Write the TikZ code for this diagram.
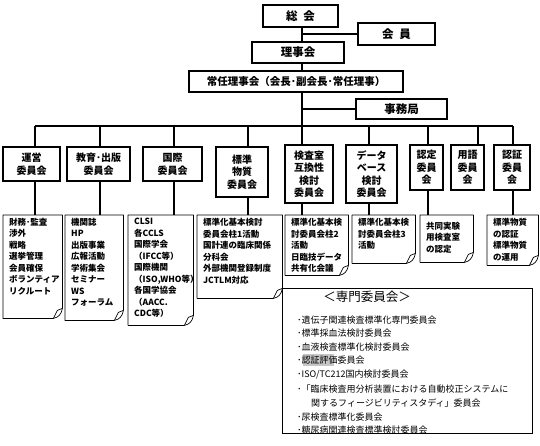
\documentclass[tikz,border=0pt]{standalone}
\usepackage{fontspec}
\newfontfamily\jp{Noto Sans CJK JP}
\newcommand\dogear[1]{%
  \draw[nline] (#1.north west) -- (#1.north east) -- ([yshift=10pt]#1.south east)
     .. controls ([xshift=-1pt,yshift=4pt]#1.south east) and ([xshift=-4pt,yshift=1pt]#1.south east) .. ([xshift=-9pt]#1.south east) -- (#1.south west) -- cycle;
  \draw[nline] ([xshift=-9pt]#1.south east) -- ([xshift=-5pt,yshift=8pt]#1.south east) -- ([yshift=10pt]#1.south east);}
\begin{document}
\begin{tikzpicture}[x=1pt,y=-1pt,
  topbox/.style={draw,line width=1.5pt,inner sep=0pt,font=\jp\bfseries\fontsize{11.5}{13}\selectfont},
  cbox/.style={draw,line width=1.5pt,inner sep=0pt,align=center,font=\jp\bfseries\fontsize{10}{12.5}\selectfont},
  conn/.style={line width=1.3pt},
  nframe/.style={inner sep=0pt,anchor=north west},
  ntext/.style={inner sep=0pt,anchor=north west,align=left,font=\jp\bfseries\fontsize{8.5}{11.5}\selectfont},
  nline/.style={line width=0.7pt,line join=round},
  ltext/.style={inner sep=0pt,anchor=west,font=\jp\fontsize{9}{11}\selectfont},
]
\fill[white] (0,0) rectangle (540,446);
\useasboundingbox (0,0) rectangle (540,446);

% top boxes
\node[topbox,minimum width=75pt,minimum height=22pt] (soukai) at (300.5,16) {総\hspace{0.5em}会};
\node[topbox,minimum width=77pt,minimum height=22pt] (kaiin) at (396.5,34) {会\hspace{0.5em}員};
\node[topbox,minimum width=92pt,minimum height=21pt] (riji) at (298,52.5) {理事会};
\node[topbox,minimum width=214pt,minimum height=21pt,font=\jp\bfseries\fontsize{10.5}{12}\selectfont] (jonin) at (296,81.5) {常任理事会（会長･副会長･常任理事）};
\node[topbox,minimum width=91pt,minimum height=20pt] (jimu) at (401.5,109) {事務局};

\coordinate (trunk) at (302,0);
\draw[conn] (soukai.south -| trunk) -- (riji.north -| trunk);
\draw[conn] (kaiin.west) -- (kaiin.west -| trunk);
\draw[conn] (riji.south -| trunk) -- (jonin.north -| trunk);
\coordinate (d1) at (35,126);
\coordinate (d2) at (100,126);
\coordinate (d3) at (174,126);
\coordinate (d4) at (248,126);
\coordinate (d5) at (302,126);
\coordinate (d6) at (369,126);
\coordinate (d7) at (428,126);
\coordinate (d8) at (478,126);
\coordinate (d9) at (513,126);
\draw[conn] (jonin.south -| trunk) -- (d5);
\draw[conn] (jimu.west) -- (jimu.west -| trunk);
\draw[conn] (d1) -- (d9);

% committees
\node[cbox,minimum width=57pt,minimum height=34pt] (c1) at (31.5,164) {運営\\委員会};
\node[cbox,minimum width=63pt,minimum height=34pt] (c2) at (98.5,164) {教育･出版\\委員会};
\node[cbox,minimum width=59pt,minimum height=34pt] (c3) at (172.5,164) {国際\\委員会};
\node[cbox,minimum width=52pt,minimum height=50pt] (c4) at (242,172) {標準\\物質\\委員会};
\node[cbox,minimum width=48pt,minimum height=58pt] (c5) at (309,174) {検査室\\互換性\\検討\\委員会};
\node[cbox,minimum width=51pt,minimum height=58pt] (c6) at (371.5,174) {データ\\ベース\\検討\\委員会};
\node[cbox,minimum width=33pt,minimum height=45pt] (c7) at (426.5,167.5) {認定\\委員\\会};
\node[cbox,minimum width=33pt,minimum height=45pt] (c8) at (467.5,167.5) {用語\\委員\\会};
\node[cbox,minimum width=36pt,minimum height=45pt] (c9) at (512,167.5) {認証\\委員\\会};

% note frames
\node[nframe,minimum width=59pt,minimum height=103pt] (n1) at (3,215) {};
\node[nframe,minimum width=58pt,minimum height=105pt] (n2) at (65,215) {};
\node[nframe,minimum width=65pt,minimum height=110pt] (n3) at (128,215) {};
\node[nframe,minimum width=85pt,minimum height=83pt] (n4) at (197,215) {};
\node[nframe,minimum width=63pt,minimum height=60pt] (n5) at (285,215) {};
\node[nframe,minimum width=63pt,minimum height=48pt] (n6) at (352,215) {};
\node[nframe,minimum width=53pt,minimum height=47pt] (n7) at (420,215) {};
\node[nframe,minimum width=51pt,minimum height=50pt] (n8) at (487,215) {};

% connectors
\foreach \i in {1,2,3,4,5,6,7,8,9} {\draw[conn] (d\i) -- (d\i |- c\i.north);}
\foreach \i in {1,2,3,4,5,6,7} {\draw[conn] (d\i |- c\i.south) -- (d\i |- n\i.north);}
\draw[conn] (d9 |- c9.south) -- (d9 |- n8.north);

\dogear{n1}\dogear{n2}\dogear{n3}\dogear{n4}\dogear{n5}\dogear{n6}\dogear{n7}\dogear{n8}

\node[ntext] (t1) at (9,218) {財務･監査\\渉外\\戦略\\選挙管理\\会員確保\\ボランティア\\リクルート};
\node[ntext] (t2) at (71,218) {機関誌\\HP\\出版事業\\広報活動\\学術集会\\セミナー\\WS\\フォーラム};
\node[ntext] (t3) at (134,218) {CLSI\\各CCLS\\国際学会\\（IFCC等）\\国際機関\\（ISO,WHO等）\\各国学協会\\（AACC.\\CDC等）};
\node[ntext] (t4) at (203,218) {標準化基本検討\\委員会柱1活動\\国計連の臨床関係\\分科会\\外部機関登録制度\\JCTLM対応};
\node[ntext] (t5) at (291,218) {標準化基本検\\討委員会柱2\\活動\\日臨技データ\\共有化会議};
\node[ntext] (t6) at (358,218) {標準化基本検\\討委員会柱3\\活動};
\node[ntext] (t7) at (426,222) {共同実験\\用検査室\\の認定};
\node[ntext] (t8) at (493,218) {標準物質\\の認証\\標準物質\\の運用};

% specialist committees
\node[draw,line width=0.8pt,inner sep=0pt,minimum width=250pt,minimum height=145pt] (senmon) at (407,360.5) {};
\node[inner sep=0pt,font=\jp\fontsize{12.5}{14}\selectfont] (stitle) at (367,297) {＜専門委員会＞};
\fill[gray!45] (303,354) rectangle (334,366);
\node[ltext] (l1) at (297,320) {･遺伝子関連検査標準化専門委員会};
\node[ltext] (l2) at (297,333.5) {･標準採血法検討委員会};
\node[ltext] (l3) at (297,347) {･血液検査標準化検討委員会};
\node[ltext] (l4) at (297,360.5) {･認証評価委員会};
\node[ltext] (l5) at (297,375) {･ISO/TC212国内検討委員会};
\node[ltext] (l6) at (297,389.5) {･「臨床検査用分析装置における自動校正システムに};
\node[ltext] (l7) at (311,403) {関するフィージビリティスタディ」委員会};
\node[ltext] (l8) at (297,417) {･尿検査標準化委員会};
\node[ltext] (l9) at (297,430) {･糖尿病関連検査標準検討委員会};
\end{tikzpicture}
\end{document}
